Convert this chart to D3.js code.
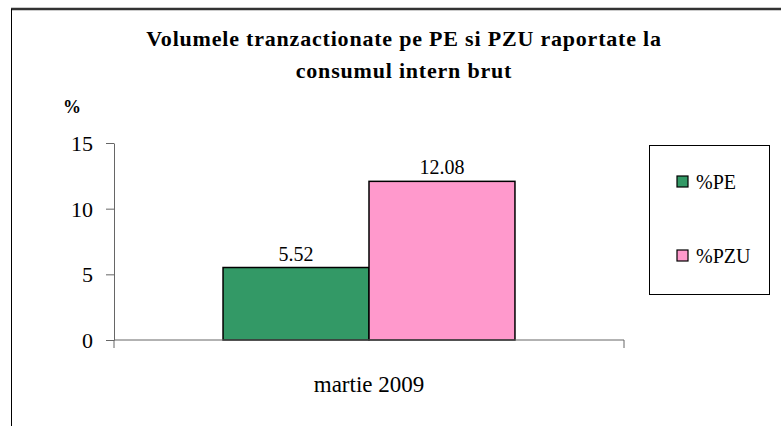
<!DOCTYPE html>
<html lang="en">
<head>
  <meta charset="UTF-8">
  <title>Volumele tranzactionate pe PE si PZU</title>
  <style>
    body { margin: 0; background: #fff; }
    text { font-family: "Liberation Serif", "Times New Roman", serif; fill: #000; }
  </style>
</head>
<body>
  <svg width="781" height="426" id="chart"></svg>
  <script src="https://d3js.org/d3.v7.min.js"></script>
  <script>
    // data
    let categories = ['martie 2009'];
    let series = ['%PE', '%PZU'];
    let values = [[5.52, 12.08]];
    let colors = ['#339966', '#ff99cc'];
    let yTicks = [0, 5, 10, 15];

    let svg = d3.select('#chart');

    // frame: thick top edge, thin left edge
    svg.append('line').attr('x1', 11).attr('y1', 9).attr('x2', 781).attr('y2', 9)
        .attr('stroke', '#333').attr('stroke-width', 2.5);
    svg.append('line').attr('x1', 11.5).attr('y1', 9).attr('x2', 11.5).attr('y2', 426)
        .attr('stroke', '#000').attr('stroke-width', 1);

    // title
    let title = svg.append('text')
        .attr('text-anchor', 'middle')
        .attr('font-weight', 'bold')
        .attr('font-size', 22)
        .attr('letter-spacing', 0.8);
    title.append('tspan').attr('x', 404).attr('y', 46).text('Volumele tranzactionate pe PE si PZU raportate la');
    title.append('tspan').attr('x', 404).attr('y', 78).text('consumul intern brut');

    svg.append('text').attr('x', 63).attr('y', 113)
        .attr('font-weight', 'bold').attr('font-size', 18).text('%');

    let y = d3.scaleLinear().domain([0, 15]).range([340, 143]);
    let x0 = d3.scaleBand().domain(categories).range([114, 624]);
    let x1 = d3.scaleBand().domain(series).range([0, x0.bandwidth()]).paddingOuter(0.747);

    // y axis
    let yAxis = svg.append('g')
        .attr('transform', 'translate(114,0)')
        .call(d3.axisLeft(y).tickValues(yTicks).tickSize(8).tickSizeOuter(0).tickPadding(13));
    yAxis.selectAll('path, line').attr('stroke', '#666');
    yAxis.selectAll('text').attr('font-size', 22).attr('font-family', '"Liberation Serif", serif').attr('dy', '0.34em');
    yAxis.append('line').attr('x1', 0).attr('x2', 0).attr('y1', y(0)).attr('y2', y(0) + 8).attr('stroke', '#666');

    // bars
    let groups = svg.selectAll('g.cat').data(categories).join('g')
        .attr('class', 'cat')
        .attr('transform', d => `translate(${x0(d)},0)`);

    groups.selectAll('rect').data((d, i) => values[i].map((v, j) => ({ s: series[j], v: v, c: colors[j] })))
        .join('rect')
        .attr('x', d => x1(d.s))
        .attr('y', d => y(d.v))
        .attr('width', x1.bandwidth())
        .attr('height', d => y(0) - y(d.v))
        .attr('fill', d => d.c)
        .attr('stroke', '#000')
        .attr('stroke-width', 1.5);

    groups.selectAll('text.val').data((d, i) => values[i].map((v, j) => ({ s: series[j], v: v })))
        .join('text')
        .attr('class', 'val')
        .attr('x', d => x1(d.s) + x1.bandwidth() / 2)
        .attr('y', d => y(d.v) - 7)
        .attr('text-anchor', 'middle')
        .attr('font-size', 20)
        .text(d => d.v.toFixed(2));

    // x axis
    svg.append('line')
        .attr('x1', x0.range()[0]).attr('x2', x0.range()[1])
        .attr('y1', y(0)).attr('y2', y(0))
        .attr('stroke', '#666');
    svg.selectAll('line.xtick').data(categories.map(c => x0(c) + x0.bandwidth()))
        .join('line')
        .attr('class', 'xtick')
        .attr('x1', d => d).attr('x2', d => d)
        .attr('y1', y(0)).attr('y2', y(0) + 8)
        .attr('stroke', '#666');
    svg.selectAll('text.cat').data(categories).join('text')
        .attr('class', 'cat')
        .attr('x', d => x0(d) + x0.bandwidth() / 2)
        .attr('y', 392)
        .attr('text-anchor', 'middle')
        .attr('font-size', 23)
        .text(d => d);

    // legend
    let legend = svg.append('g').attr('transform', 'translate(649,145)');
    legend.append('rect').attr('x', 0.5).attr('y', 0.5).attr('width', 120).attr('height', 149)
        .attr('fill', '#fff').attr('stroke', '#000');
    let items = legend.selectAll('g.item').data(series).join('g')
        .attr('class', 'item')
        .attr('transform', (d, i) => `translate(28,${31 + i * 74})`);
    items.append('rect').attr('width', 11).attr('height', 11)
        .attr('fill', (d, i) => colors[i]).attr('stroke', '#000').attr('stroke-width', 1.2);
    items.append('text').attr('x', 19).attr('y', 13).attr('font-size', 20).text(d => d);
  </script>
</body>
</html>
